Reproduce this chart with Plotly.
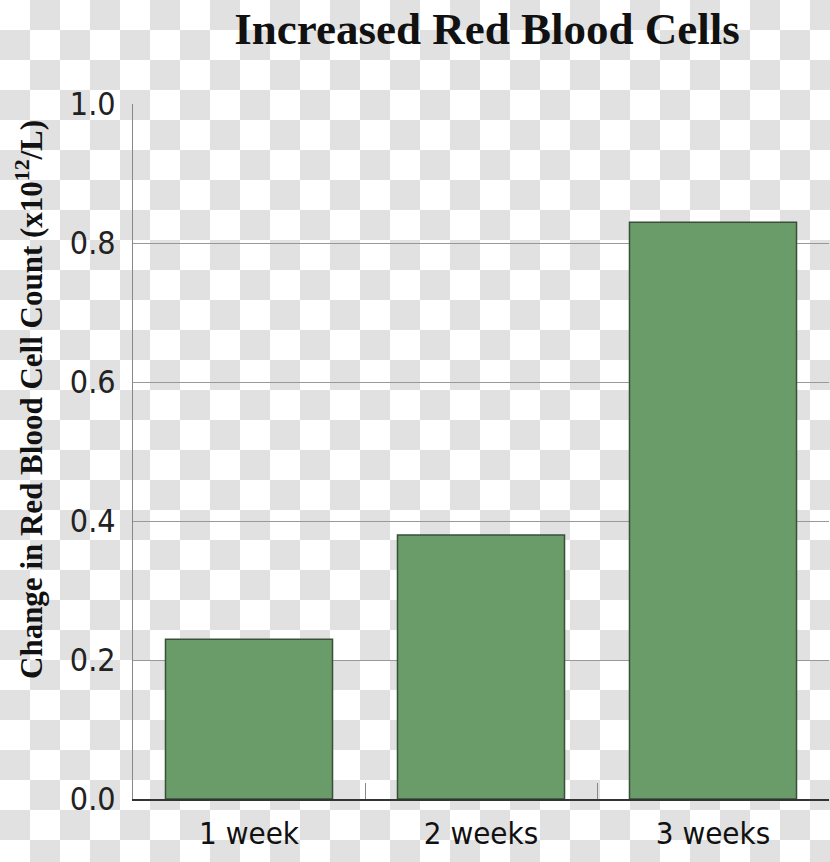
import plotly.graph_objects as go

categories = ["1 week", "2 weeks", "3 weeks"]
values = [0.23, 0.38, 0.83]
y_ticks = [0.0, 0.2, 0.4, 0.6, 0.8, 1.0]
y_tick_labels = ["0.0", "0.2", "0.4", "0.6", "0.8", "1.0"]

W, H = 830, 862
L, R, T, B = 133, 1, 104, 63
pw, ph = W - L - R, H - T - B

fig = go.Figure()
fig.add_trace(go.Bar(
    x=categories, y=values,
    marker=dict(color="#699c68", line=dict(color="#3a4f3a", width=1.5)),
    width=0.72,
))

# checkerboard background (transparency pattern of the reference)
shapes = []
sq = 30
for i in range(H // sq + 1):
    for j in range(W // sq + 1):
        if (i + j) % 2 == 1:
            x0, x1 = j * sq, min((j + 1) * sq, W)
            y0, y1 = i * sq, min((i + 1) * sq, H)
            shapes.append(dict(
                type="rect", xref="paper", yref="paper", layer="below",
                x0=(x0 - L) / pw, x1=(x1 - L) / pw,
                y0=(H - B - y1) / ph, y1=(H - B - y0) / ph,
                fillcolor="#e1e1e1", line=dict(width=0),
            ))

tick_font = "DejaVu Sans Condensed, Liberation Sans Narrow, sans-serif"

fig.update_layout(
    width=W, height=H,
    margin=dict(l=L, r=R, t=T, b=B),
    paper_bgcolor="white",
    plot_bgcolor="rgba(0,0,0,0)",
    shapes=shapes,
    showlegend=False,
    title=dict(
        text="<b>Increased Red Blood Cells</b>",
        font=dict(family="Liberation Serif, Times New Roman, serif", size=45, color="#111"),
        x=487 / W, xanchor="center", xref="container",
        y=1 - 28 / H, yanchor="middle", yref="container",
    ),
    xaxis=dict(
        range=[-0.5, 2.5],
        showline=True, linecolor="#333", linewidth=1.5,
        ticks="inside", tickson="boundaries", ticklen=16, tickcolor="#888", tickwidth=1,
        tickfont=dict(family=tick_font, size=31, color="#111"),
        ticklabelstandoff=6,
        showgrid=False,
    ),
    yaxis=dict(
        range=[0, 1.0],
        tickvals=y_ticks, ticktext=y_tick_labels,
        showline=True, linecolor="#888", linewidth=1,
        showgrid=True, gridcolor="#999", gridwidth=1,
        zeroline=False,
        ticks="", ticklabelstandoff=10,
        tickfont=dict(family=tick_font, size=32, color="#222"),
    ),
    annotations=[dict(
        text="<b>Change in Red Blood Cell Count (x10<sup>12</sup>/L)</b>",
        textangle=-90, xref="paper", yref="paper",
        x=(29 - L) / pw, y=(H - B - 400) / ph,
        xanchor="center", yanchor="middle", showarrow=False,
        font=dict(family="Liberation Serif, Times New Roman, serif", size=31, color="#111"),
    )],
)

fig.write_html(
    "out.html",
    config={"displayModeBar": False},
    post_script="document.body.style.margin='0';document.body.style.padding='0';",
)
